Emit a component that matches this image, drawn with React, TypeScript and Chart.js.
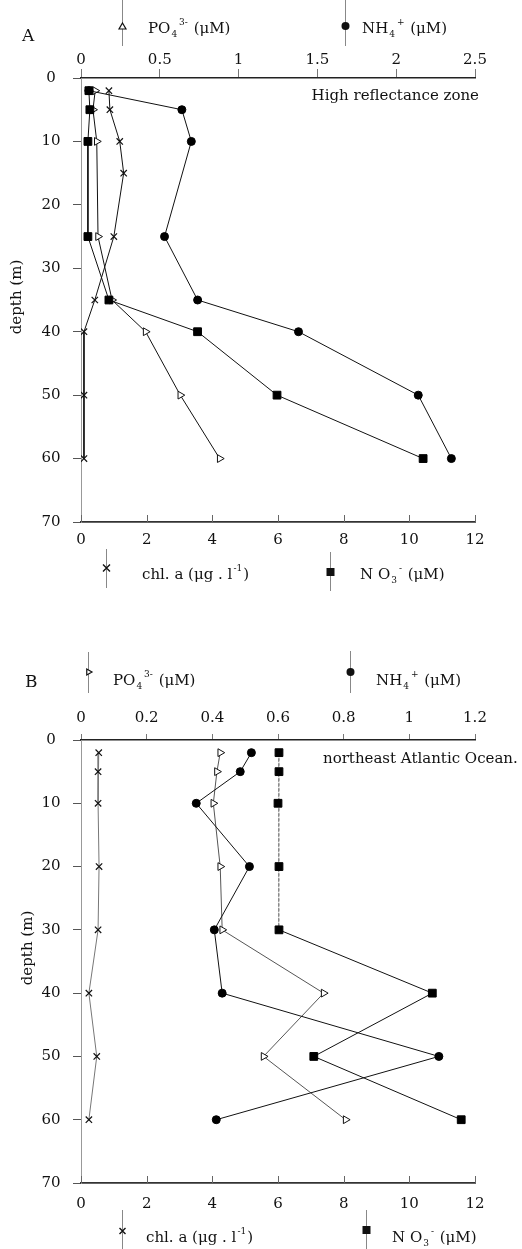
import { useEffect, useRef } from 'react';
import { Chart, registerables } from 'chart.js';

Chart.register(...registerables);

// ---------- data ----------
const depthTickLabels = ['0', '10', '20', '30', '40', '50', '60', '70'];
const bottomTickLabels = ['0', '2', '4', '6', '8', '10', '12'];
const topTickLabelsA = ['0', '0.5', '1', '1.5', '2', '2.5'];
const topTickLabelsB = ['0', '0.2', '0.4', '0.6', '0.8', '1', '1.2'];

// Panel A
const depthsChlA = [2, 5, 10, 15, 25, 35, 40, 50, 60];
const chlA = [0.85, 0.88, 1.18, 1.3, 1.0, 0.42, 0.09, 0.09, 0.09];
const depthsA = [2, 5, 10, 25, 35, 40, 50, 60];
const no3A = [0.24, 0.27, 0.21, 0.21, 0.85, 3.55, 5.97, 10.42];
const po4A = [0.09, 0.076, 0.1, 0.108, 0.197, 0.41, 0.63, 0.88];
const nh4A = [0.05, 0.64, 0.7, 0.53, 0.74, 1.38, 2.14, 2.35];

// Panel B
const depthsB = [2, 5, 10, 20, 30, 40, 50, 60];
const chlB = [0.54, 0.52, 0.52, 0.55, 0.52, 0.24, 0.48, 0.24];
const po4B = [0.424, 0.414, 0.403, 0.424, 0.43, 0.739, 0.556, 0.806];
const nh4B = [0.519, 0.485, 0.351, 0.513, 0.406, 0.43, 1.09, 0.412];
const no3B = [6.03, 6.03, 6.0, 6.03, 6.03, 10.7, 7.09, 11.58];

// ---------- helpers ----------
const SERIF = '"DejaVu Serif", "Liberation Serif", serif';
const INK = '#111';

type Seg = { t: string; k?: 'sub' | 'sup' };

const lblPO4: Seg[] = [{ t: 'PO' }, { t: '4', k: 'sub' }, { t: '3-', k: 'sup' }, { t: ' (μM)' }];
const lblNH4: Seg[] = [{ t: 'NH' }, { t: '4', k: 'sub' }, { t: '+', k: 'sup' }, { t: ' (μM)' }];
const lblChl: Seg[] = [{ t: 'chl. a (μg . l' }, { t: '-1', k: 'sup' }, { t: ')' }];
const lblNO3: Seg[] = [{ t: 'N O' }, { t: '3', k: 'sub' }, { t: '-', k: 'sup' }, { t: ' (μM)' }];

function drawRich(ctx: CanvasRenderingContext2D, x: number, y: number, segs: Seg[], size: number) {
  let cx = x;
  ctx.textAlign = 'left';
  ctx.textBaseline = 'alphabetic';
  for (const s of segs) {
    if (!s.k) {
      ctx.font = `${size}px ${SERIF}`;
      ctx.fillText(s.t, cx, y);
      cx += ctx.measureText(s.t).width;
    } else {
      ctx.font = `${Math.round(size * 0.62)}px ${SERIF}`;
      const dy = s.k === 'sub' ? 4 : -8;
      ctx.fillText(s.t, cx + 1, y + dy);
      cx += ctx.measureText(s.t).width + 2;
    }
  }
}

function drawMarker(ctx: CanvasRenderingContext2D, kind: string, x: number, y: number, r: number) {
  ctx.save();
  ctx.strokeStyle = INK;
  ctx.fillStyle = INK;
  ctx.lineWidth = 1.2;
  ctx.beginPath();
  if (kind === 'circle') {
    ctx.arc(x, y, r, 0, Math.PI * 2);
    ctx.fill();
  } else if (kind === 'rect') {
    ctx.rect(x - r, y - r, 2 * r, 2 * r);
    ctx.fill();
  } else if (kind === 'triUp') {
    ctx.moveTo(x, y - r);
    ctx.lineTo(x + r * 0.87, y + r * 0.5);
    ctx.lineTo(x - r * 0.87, y + r * 0.5);
    ctx.closePath();
    ctx.fillStyle = '#fff';
    ctx.fill();
    ctx.stroke();
  } else if (kind === 'triRight') {
    ctx.moveTo(x + r, y);
    ctx.lineTo(x - r * 0.5, y - r * 0.87);
    ctx.lineTo(x - r * 0.5, y + r * 0.87);
    ctx.closePath();
    ctx.fillStyle = '#fff';
    ctx.fill();
    ctx.stroke();
  } else if (kind === 'cross') {
    ctx.lineWidth = 1.4;
    ctx.moveTo(x - r, y - r);
    ctx.lineTo(x + r, y + r);
    ctx.moveTo(x + r, y - r);
    ctx.lineTo(x - r, y + r);
    ctx.stroke();
  }
  ctx.restore();
}

type LegendItem = { kind: string; mx: number; my: number; r: number; y0: number; y1: number; tx: number; ty: number; segs: Seg[] };

type Panel = {
  canvasH: number;
  chartTop: number;
  chartBottom: number;
  topMax: number;
  topStep: number;
  topLabels: string[];
  topTickLen: number;
  topPad: number;
  bottomPad: number;
  letter: { t: string; x: number; y: number };
  depthTitle: { x: number; y: number };
  note: { t: string; x: number; y: number; align: CanvasTextAlign };
  legend: LegendItem[];
  datasets: any[];
};

const pts = (depths: number[], vals: number[]) => depths.map((d, i) => ({ x: vals[i], y: d }));

function lineDs(data: any[], axis: string, style: any, color = INK, dash: number[] = []) {
  return {
    data,
    xAxisID: axis,
    yAxisID: 'y',
    borderColor: color,
    borderWidth: 1,
    borderDash: dash,
    fill: false,
    tension: 0,
    pointHoverRadius: 0,
    ...style,
  };
}

const stNH4 = { pointStyle: 'circle', pointRadius: 4, pointBackgroundColor: '#000', pointBorderColor: '#000', pointBorderWidth: 1 };
const stNO3 = { pointStyle: 'rect', pointRadius: 5.5, pointBackgroundColor: '#000', pointBorderColor: '#000', pointBorderWidth: 1 };
const stPO4 = { pointStyle: 'triangle', pointRotation: 90, pointRadius: 4.5, pointBackgroundColor: '#fff', pointBorderColor: '#111', pointBorderWidth: 1 };
const stChl = { pointStyle: 'crossRot', pointRadius: 4.5, pointBorderColor: '#111', pointBorderWidth: 1.2 };

const panelA: Panel = {
  canvasH: 620,
  chartTop: 78,
  chartBottom: 522,
  topMax: 2.5,
  topStep: 0.5,
  topLabels: topTickLabelsA,
  topTickLen: 9,
  topPad: 0,
  bottomPad: 9,
  letter: { t: 'A', x: 22, y: 41 },
  depthTitle: { x: 17, y: 297 },
  note: { t: 'High reflectance zone', x: 479, y: 100, align: 'right' },
  legend: [
    { kind: 'triUp', mx: 122, my: 27, r: 4, y0: 0, y1: 46, tx: 148, ty: 33, segs: lblPO4 },
    { kind: 'circle', mx: 345, my: 26, r: 4, y0: 0, y1: 46, tx: 362, ty: 33, segs: lblNH4 },
    { kind: 'cross', mx: 106, my: 568, r: 3.5, y0: 549, y1: 588, tx: 142, ty: 579, segs: lblChl },
    { kind: 'rect', mx: 330, my: 572, r: 4, y0: 552, y1: 591, tx: 360, ty: 579, segs: lblNO3 },
  ],
  datasets: [
    lineDs(pts(depthsA, nh4A), 'xt', stNH4),
    lineDs(pts(depthsA, no3A), 'xb', stNO3),
    lineDs(pts(depthsA, po4A), 'xt', stPO4),
    lineDs(pts(depthsChlA, chlA), 'xb', stChl),
  ],
};

const panelB: Panel = {
  canvasH: 629,
  chartTop: 120,
  chartBottom: 563,
  topMax: 1.2,
  topStep: 0.2,
  topLabels: topTickLabelsB,
  topTickLen: 6,
  topPad: 7,
  bottomPad: 12,
  letter: { t: 'B', x: 25, y: 67 },
  depthTitle: { x: 28, y: 328 },
  note: { t: 'northeast Atlantic Ocean.', x: 323, y: 143, align: 'left' },
  legend: [
    { kind: 'triRight', mx: 88, my: 52, r: 3.5, y0: 32, y1: 73, tx: 113, ty: 65, segs: lblPO4 },
    { kind: 'circle', mx: 350, my: 52, r: 4, y0: 31, y1: 73, tx: 376, ty: 65, segs: lblNH4 },
    { kind: 'cross', mx: 122, my: 611, r: 3, y0: 590, y1: 629, tx: 146, ty: 622, segs: lblChl },
    { kind: 'rect', mx: 366, my: 610, r: 4, y0: 590, y1: 629, tx: 392, ty: 622, segs: lblNO3 },
  ],
  datasets: [
    lineDs(pts(depthsB, nh4B), 'xt', stNH4),
    lineDs(pts(depthsB, no3B), 'xb', {
      ...stNO3,
      segment: {
        borderColor: (c: any) => (c.p1.parsed.y <= 30 ? '#888' : INK),
        borderDash: (c: any) => (c.p1.parsed.y <= 30 ? [3, 2] : []),
      },
    }),
    lineDs(pts(depthsB, po4B), 'xt', stPO4, '#555'),
    lineDs(pts(depthsB, chlB), 'xb', stChl, '#777'),
  ],
};

function makeDecor(p: Panel) {
  return {
    id: 'decor',
    afterDraw(chart: any) {
      const ctx: CanvasRenderingContext2D = chart.ctx;
      const area = chart.chartArea;
      const xb = chart.scales.xb;
      ctx.save();
      // inward ticks on bottom axis
      ctx.strokeStyle = '#666';
      ctx.lineWidth = 1;
      for (const t of xb.ticks) {
        const x = Math.round(xb.getPixelForValue(t.value)) + 0.5;
        ctx.beginPath();
        ctx.moveTo(x, area.bottom);
        ctx.lineTo(x, area.bottom - 7);
        ctx.stroke();
      }
      // legend lines and markers
      for (const it of p.legend) {
        ctx.strokeStyle = '#888';
        ctx.lineWidth = 1;
        ctx.beginPath();
        ctx.moveTo(it.mx + 0.5, it.y0);
        ctx.lineTo(it.mx + 0.5, it.y1);
        ctx.stroke();
        drawMarker(ctx, it.kind, it.mx + 0.5, it.my, it.r);
        ctx.fillStyle = INK;
        drawRich(ctx, it.tx, it.ty, it.segs, 15);
      }
      // panel letter
      ctx.fillStyle = INK;
      ctx.font = `17px ${SERIF}`;
      ctx.textAlign = 'left';
      ctx.textBaseline = 'alphabetic';
      ctx.fillText(p.letter.t, p.letter.x, p.letter.y);
      // annotation
      ctx.font = `15px ${SERIF}`;
      ctx.textAlign = p.note.align;
      ctx.fillText(p.note.t, p.note.x, p.note.y);
      // depth title
      ctx.save();
      ctx.translate(p.depthTitle.x, p.depthTitle.y);
      ctx.rotate(-Math.PI / 2);
      ctx.textAlign = 'center';
      ctx.textBaseline = 'middle';
      ctx.font = `15px ${SERIF}`;
      ctx.fillText('depth (m)', 0, 0);
      ctx.restore();
      ctx.restore();
    },
  };
}

function labelFor(list: string[]) {
  return (v: any) => list.find((t) => Math.abs(parseFloat(t) - Number(v)) < 1e-6) ?? '';
}

function makeConfig(p: Panel): any {
  const tickFont = { family: SERIF, size: 15 };
  return {
    type: 'line',
    data: { datasets: p.datasets },
    options: {
      responsive: false,
      animation: false,
      events: [],
      layout: { padding: { left: 0, right: 47, top: 0, bottom: 0 } },
      plugins: { legend: { display: false }, tooltip: { enabled: false } },
      scales: {
        xt: {
          type: 'linear',
          position: 'top',
          min: 0,
          max: p.topMax,
          ticks: { stepSize: p.topStep, callback: labelFor(p.topLabels), font: tickFont, color: INK, padding: p.topPad, maxRotation: 0, autoSkip: false },
          grid: { drawOnChartArea: false, drawTicks: true, tickLength: p.topTickLen, color: '#777', lineWidth: 1 },
          border: { display: true, color: '#222', width: 1.5 },
          afterFit: (s: any) => { s.height = p.chartTop; },
        },
        xb: {
          type: 'linear',
          position: 'bottom',
          min: 0,
          max: 12,
          ticks: { stepSize: 2, callback: labelFor(bottomTickLabels), font: tickFont, color: INK, padding: p.bottomPad, maxRotation: 0, autoSkip: false },
          grid: { drawOnChartArea: false, drawTicks: false, color: '#777' },
          border: { display: true, color: '#333', width: 1.8 },
          afterFit: (s: any) => { s.height = p.canvasH - p.chartBottom; },
        },
        y: {
          type: 'linear',
          position: 'left',
          reverse: true,
          min: 0,
          max: 70,
          ticks: { stepSize: 10, callback: labelFor(depthTickLabels), font: tickFont, color: INK, padding: 12.5, crossAlign: 'center', autoSkip: false },
          grid: { drawOnChartArea: false, drawTicks: true, tickLength: 8, color: '#555', lineWidth: 1 },
          border: { display: true, color: '#999', width: 1, dash: [2, 2] },
          afterFit: (s: any) => { s.width = 81; },
        },
      },
    },
    plugins: [makeDecor(p)],
  };
}

function PanelChart({ panel, top }: { panel: Panel; top: number }) {
  const ref = useRef<HTMLCanvasElement | null>(null);
  useEffect(() => {
    if (!ref.current) return;
    const chart = new Chart(ref.current, makeConfig(panel));
    return () => chart.destroy();
  }, [panel]);
  return (
    <canvas
      ref={ref}
      width={522}
      height={panel.canvasH}
      style={{ position: 'absolute', left: 0, top, width: 522, height: panel.canvasH, display: 'block' }}
    />
  );
}

export default function App() {
  return (
    <div style={{ position: 'absolute', left: 0, top: 0, width: 522, height: 1249, background: '#fff', overflow: 'hidden' }}>
      <PanelChart panel={panelA} top={0} />
      <PanelChart panel={panelB} top={620} />
    </div>
  );
}
